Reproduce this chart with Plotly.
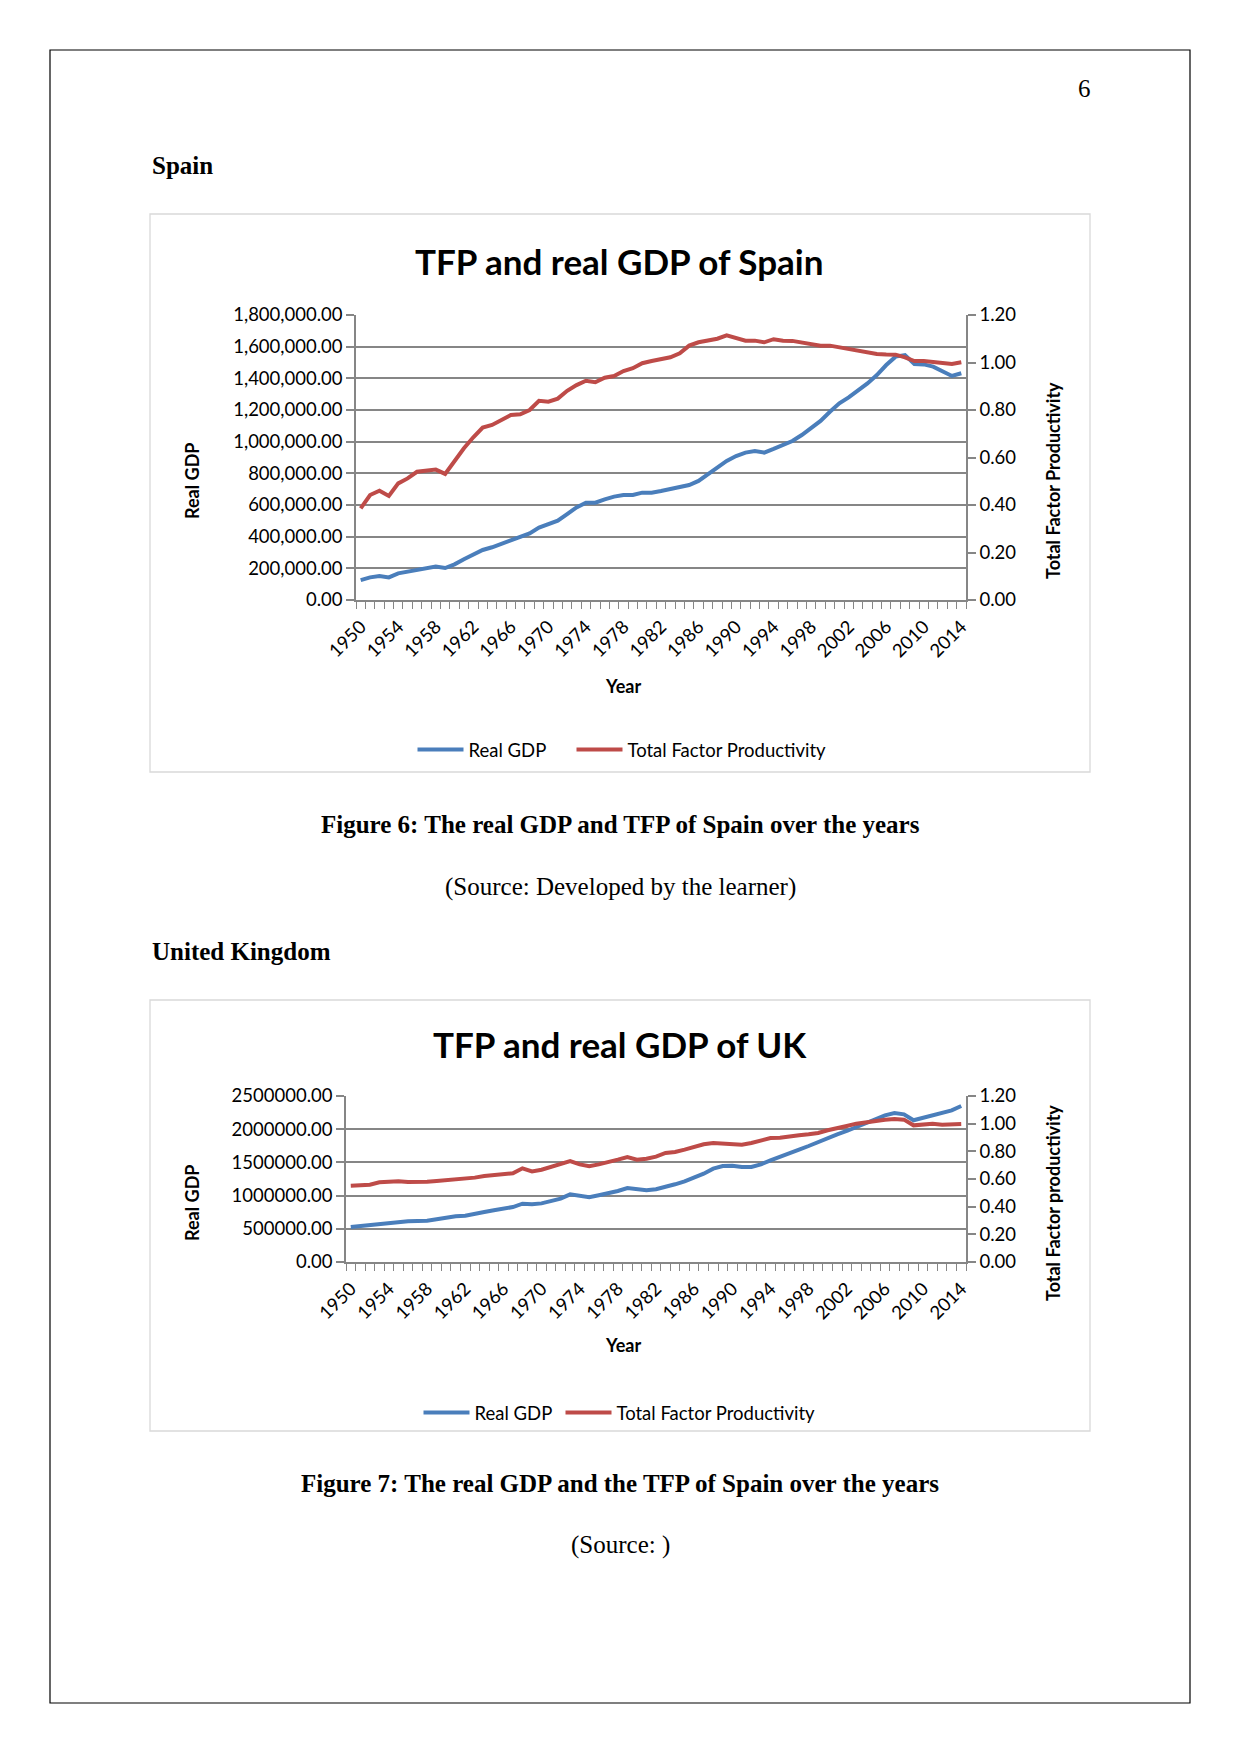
import plotly.graph_objects as go

# ---------------- data ----------------
YEARS = list(range(1950, 2015))
TICK_YEARS = YEARS[::4]

SPAIN_GDP = [126000, 143000, 152000, 143000, 168000, 179000, 194000, 204000, 211000, 202000,
             225000, 257000, 288000, 316000, 333000, 354000, 379000, 396000, 421000, 457000,
             478000, 501000, 543000, 585000, 615000, 615000, 636000, 653000, 663000, 663000,
             678000, 678000, 688000, 699000, 709000, 726000, 752000, 796000, 838000, 878000,
             909000, 931000, 941000, 931000, 954000, 979000, 1004000, 1042000, 1084000, 1131000,
             1189000, 1242000, 1280000, 1322000, 1368000, 1421000, 1484000, 1537000, 1547000, 1491000,
             1488000, 1474000, 1442000, 1415000, 1432000]
SPAIN_TFP = [0.386, 0.442, 0.460, 0.438, 0.491, 0.512, 0.540, 0.545, 0.549, 0.531,
             0.585, 0.639, 0.685, 0.726, 0.737, 0.758, 0.779, 0.782, 0.800, 0.839,
             0.835, 0.848, 0.881, 0.905, 0.923, 0.917, 0.936, 0.943, 0.964, 0.976,
             0.997, 1.006, 1.012, 1.022, 1.039, 1.071, 1.085, 1.091, 1.100, 1.114,
             1.102, 1.092, 1.092, 1.085, 1.098, 1.092, 1.091, 1.085, 1.078, 1.071,
             1.071, 1.064, 1.055, 1.048, 1.041, 1.036, 1.034, 1.033, 1.022, 1.006,
             1.006, 1.001, 0.996, 0.994, 1.001]
UK_GDP = [527000, 542000, 547000, 577000, 592000, 607000, 612000, 617000, 622000, 643000,
          668000, 688000, 698000, 718000, 753000, 778000, 798000, 828000, 878000, 868000,
          883000, 919000, 954000, 1019000, 994000, 974000, 1004000, 1029000, 1069000, 1114000,
          1089000, 1079000, 1097000, 1130000, 1170000, 1215000, 1265000, 1330000, 1406000, 1446000,
          1451000, 1431000, 1431000, 1471000, 1531000, 1581000, 1632000, 1692000, 1747000, 1807000,
          1872000, 1923000, 1973000, 2033000, 2093000, 2149000, 2209000, 2244000, 2224000, 2134000,
          2169000, 2209000, 2234000, 2284000, 2349000]
UK_TFP = [0.552, 0.559, 0.559, 0.576, 0.583, 0.583, 0.578, 0.578, 0.581, 0.586,
          0.593, 0.598, 0.600, 0.610, 0.622, 0.627, 0.631, 0.641, 0.677, 0.655,
          0.667, 0.687, 0.706, 0.730, 0.706, 0.692, 0.706, 0.720, 0.740, 0.759,
          0.740, 0.747, 0.762, 0.788, 0.795, 0.812, 0.831, 0.851, 0.860, 0.855,
          0.851, 0.848, 0.860, 0.880, 0.896, 0.899, 0.904, 0.916, 0.923, 0.933,
          0.952, 0.964, 0.983, 1.000, 1.012, 1.019, 1.029, 1.034, 1.029, 0.988,
          0.993, 1.000, 0.993, 0.995, 0.998]

# ---------------- layout helpers ----------------
OFF = 8
W, H = 1241 - 2 * OFF, 1754 - 2 * OFF


def X(px):
    return (px - OFF) / W


def Y(py):
    return 1 - (py - OFF) / H


BLUE = "#4A7EBB"
RED = "#BE4B48"
GRID = "#868686"
SANS = "Lato"
SERIF = "Liberation Serif"

fig = go.Figure()

fig.add_trace(go.Scatter(x=YEARS, y=SPAIN_GDP, name="Real GDP", mode="lines",
                         line=dict(color=BLUE, width=4), xaxis="x", yaxis="y", legend="legend"))
fig.add_trace(go.Scatter(x=YEARS, y=SPAIN_TFP, name="Total Factor Productivity", mode="lines",
                         line=dict(color=RED, width=4), xaxis="x", yaxis="y2", legend="legend2"))
fig.add_trace(go.Scatter(x=YEARS, y=UK_GDP, name="Real GDP", mode="lines",
                         line=dict(color=BLUE, width=4), xaxis="x2", yaxis="y3", legend="legend3"))
fig.add_trace(go.Scatter(x=YEARS, y=UK_TFP, name="Total Factor Productivity", mode="lines",
                         line=dict(color=RED, width=4), xaxis="x2", yaxis="y4", legend="legend4"))

tickfont = dict(family=SANS, size=18.5, color="#000000")


def xaxis_cfg(dom, anchor):
    return dict(domain=dom, anchor=anchor, range=[YEARS[0] - 0.5, YEARS[-1] + 0.5],
                automargin=False,
                tickmode="array", tickvals=TICK_YEARS, ticktext=[str(v) for v in TICK_YEARS],
                tickangle=-45, tickfont=tickfont, showgrid=False, zeroline=False,
                showline=True, linecolor=GRID, linewidth=1.5,
                ticks="outside", ticklen=7, tickcolor="rgba(0,0,0,0)",
                minor=dict(ticks="outside", ticklen=7, tickcolor=GRID, tickwidth=1.3,
                           tick0=YEARS[0] - 0.5, dtick=1, showgrid=False))


def yleft_cfg(dom, anchor, rng, dtick, fmt):
    return dict(domain=dom, anchor=anchor, range=rng, dtick=dtick, tick0=0, tickformat=fmt,
                automargin=False,
                tickfont=tickfont, showgrid=True, gridcolor=GRID, gridwidth=1.5, zeroline=False,
                showline=True, linecolor=GRID, linewidth=1.5, ticks="outside", ticklen=8,
                tickcolor=GRID, tickwidth=1.5)


def yright_cfg(overlay, anchor):
    return dict(overlaying=overlay, anchor=anchor, side="right", range=[0, 1.2], dtick=0.2, tick0=0,
                automargin=False,
                tickformat=".2f", tickfont=tickfont, showgrid=False, zeroline=False,
                showline=True, linecolor=GRID, linewidth=1.5, ticks="outside", ticklen=8,
                tickcolor=GRID, tickwidth=1.5)


sp_x = [X(356), X(966)]
sp_y = [Y(600), Y(315)]
uk_x = [X(346), X(966)]
uk_y = [Y(1262), Y(1096)]

LEG_OFF = 4.5  # distance from legend anchor to the start of its line sample


def legend_at(line_start_px, py):
    return dict(orientation="h", xanchor="left", yanchor="middle",
                x=X(line_start_px - LEG_OFF), y=Y(py),
                font=dict(family=SANS, size=18.5, color="#000000"), bgcolor="rgba(0,0,0,0)",
                itemwidth=46)


layout = dict(
    width=W, height=H, margin=dict(l=0, r=0, t=0, b=0, autoexpand=False),
    paper_bgcolor="white", plot_bgcolor="white",
    xaxis=xaxis_cfg(sp_x, "y"),
    yaxis=yleft_cfg(sp_y, "x", [0, 1800000], 200000, ",.2f"),
    yaxis2=yright_cfg("y", "x"),
    xaxis2=xaxis_cfg(uk_x, "y3"),
    yaxis3=yleft_cfg(uk_y, "x2", [0, 2500000], 500000, ".2f"),
    yaxis4=yright_cfg("y3", "x2"),
    legend=legend_at(417, 750),
    legend2=legend_at(576, 750),
    legend3=legend_at(423, 1413),
    legend4=legend_at(565, 1413),
    showlegend=True,
)
fig.update_layout(**layout)

# page border and chart frames
shapes = [
    dict(type="rect", xref="paper", yref="paper", x0=X(50), x1=X(1190), y0=Y(50), y1=Y(1703),
         line=dict(color="#000000", width=1.2)),
    dict(type="rect", xref="paper", yref="paper", x0=X(150), x1=X(1090), y0=Y(214), y1=Y(772),
         line=dict(color="#D9D9D9", width=1.3)),
    dict(type="rect", xref="paper", yref="paper", x0=X(150), x1=X(1090), y0=Y(1000), y1=Y(1431),
         line=dict(color="#D9D9D9", width=1.3)),
]
fig.update_layout(shapes=shapes)


def ann(text, px, py, family, size, bold=False, xanchor="center", angle=0, color="#000000"):
    t = f"<b>{text}</b>" if bold else text
    return dict(text=t, x=X(px), y=Y(py), xref="paper", yref="paper", showarrow=False,
                xanchor=xanchor, yanchor="middle", textangle=angle,
                font=dict(family=family, size=size, color=color))


annotations = [
    ann("6", 1084, 88, SERIF, 25),
    ann("Spain", 150, 165, SERIF, 25, bold=True, xanchor="left"),
    ann("TFP and real GDP of Spain", 619, 261, SANS, 35, bold=True),
    ann("Real GDP", 192, 481, SANS, 18, bold=True, angle=-90),
    ann("Total Factor Productivity", 1053, 481, SANS, 18, bold=True, angle=-90),
    ann("Year", 623, 686, SANS, 18, bold=True),
    ann("Figure 6: The real GDP and TFP of Spain over the years", 620, 824, SERIF, 25, bold=True),
    ann("(Source: Developed by the learner)", 620, 887, SERIF, 25),
    ann("United Kingdom", 150, 951, SERIF, 25, bold=True, xanchor="left"),
    ann("TFP and real GDP of UK", 620, 1044, SANS, 35, bold=True),
    ann("Real GDP", 192, 1203, SANS, 18, bold=True, angle=-90),
    ann("Total Factor productivity", 1053, 1203, SANS, 18, bold=True, angle=-90),
    ann("Year", 623, 1345, SANS, 18, bold=True),
    ann("Figure 7: The real GDP and the TFP of Spain over the years", 620, 1483, SERIF, 25, bold=True),
    ann("(Source: )", 620, 1545, SERIF, 25),
]
fig.update_layout(annotations=annotations)

fig.write_html("out.html")
